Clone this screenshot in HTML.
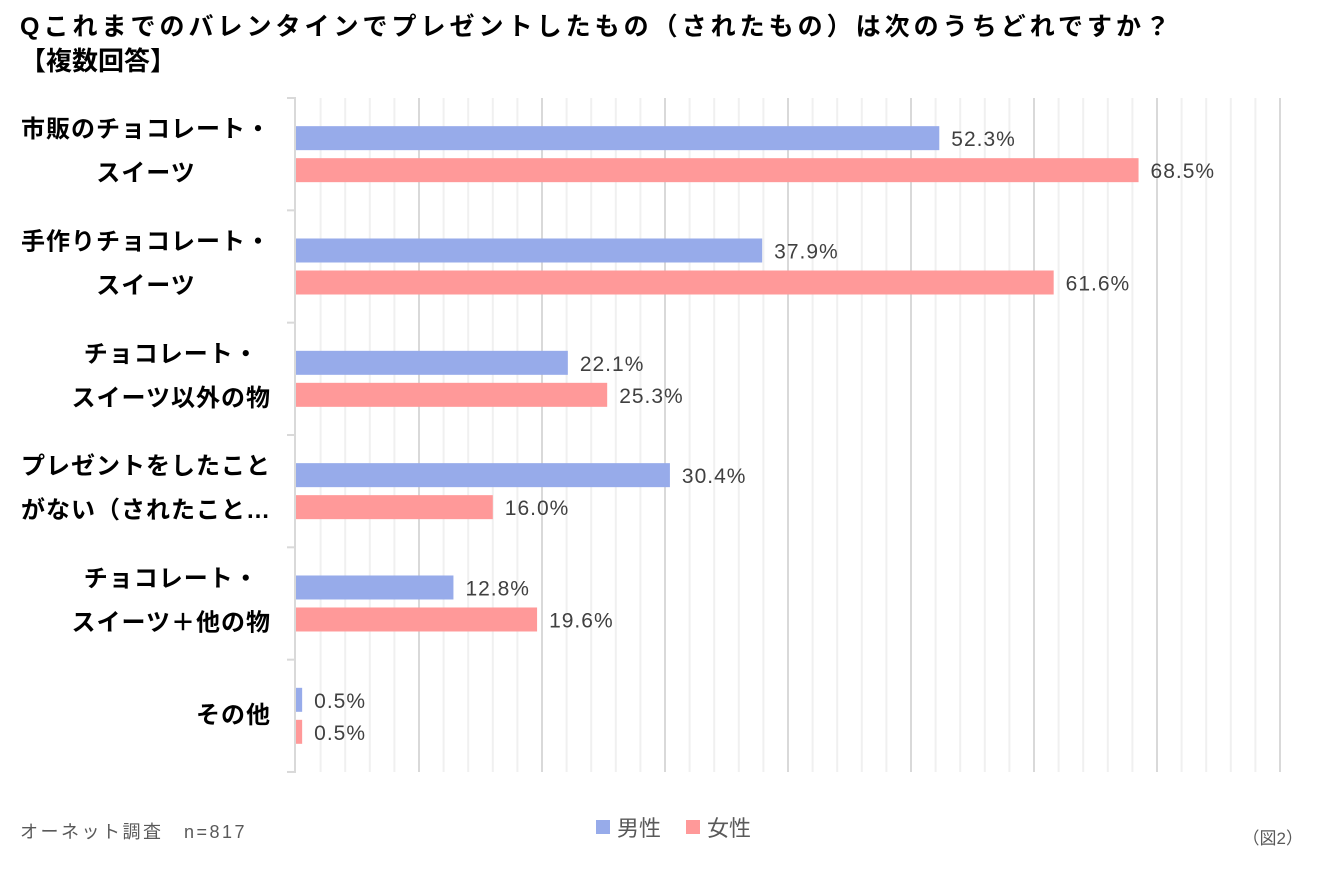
<!DOCTYPE html>
<html><head><meta charset="utf-8"><style>
body{margin:0;background:#fff;width:1337px;height:880px;overflow:hidden;font-family:"Liberation Sans","Noto Sans CJK JP",sans-serif;}
</style></head><body>
<svg id="c" width="1337" height="880" xmlns="http://www.w3.org/2000/svg">
<text x="20" y="35" font-size="25" font-weight="bold" fill="#000" textLength="1150" lengthAdjust="spacing">Qこれまでのバレンタインでプレゼントしたもの（されたもの）は次のうちどれですか？</text>
<text x="20" y="70" font-size="26" font-weight="bold" fill="#000">【複数回答】</text>
<g id="grid"></g><g id="bars"></g><g id="labels"></g>
<text x="20" y="838" font-size="18" fill="#595959" letter-spacing="2.5">オーネット調査　n=817</text>
<rect x="596" y="820" width="14" height="14" fill="#97abea"/>
<text x="617" y="836" font-size="22" fill="#595959">男性</text>
<rect x="686" y="820" width="14" height="14" fill="#ff9999"/>
<text x="707" y="836" font-size="22" fill="#595959">女性</text>
<text x="1303" y="844" font-size="17" fill="#595959" text-anchor="end">（図2）</text>
</svg>
<script>
const categories=[["市販のチョコレート・","スイーツ"],["手作りチョコレート・","スイーツ"],["チョコレート・","スイーツ以外の物"],["プレゼントをしたこと","がない（されたこと…"],["チョコレート・","スイーツ＋他の物"],["その他"]];
const male=[52.3,37.9,22.1,30.4,12.8,0.5];
const female=[68.5,61.6,25.3,16.0,19.6,0.5];
const NS="http://www.w3.org/2000/svg";
const x0=296,xScale=12.3,top0=98,bandH=112.33,maxV=80;
const X=v=>x0+v*xScale;
function mk(t,a,p){const e=document.createElementNS(NS,t);for(const k in a)e.setAttribute(k,a[k]);p.appendChild(e);return e;}
const g=document.getElementById('grid'),b=document.getElementById('bars'),l=document.getElementById('labels');
const bottom=top0+bandH*categories.length;
for(let v=2;v<=maxV;v+=2){const major=v%10===0;
const ln=mk('line',{x1:X(v),x2:X(v),y1:top0,y2:bottom,stroke:major?'#d9d9d9':'#f0f0f0','stroke-width':2},g);

}
const ax=mk('line',{x1:x0-1,x2:x0-1,y1:top0,y2:bottom,stroke:'#d9d9d9','stroke-width':2},g);


for(let i=0;i<=categories.length;i++){const y=top0+bandH*i;
const t=mk('line',{x1:x0-9,x2:x0,y1:y,y2:y,stroke:'#d9d9d9','stroke-width':2},g);

}
categories.forEach((c,i)=>{const cy=top0+bandH*i+bandH/2;
[[male[i],'#97abea',-28,'bar-male'],[female[i],'#ff9999',4,'bar-female']].forEach(([v,col,dy,nm])=>{
const r=mk('rect',{x:x0,y:cy+dy,width:Math.max(0,X(v)-x0),height:24,fill:col},b);


const t=mk('text',{x:X(v)+12,y:cy+dy+20,'font-size':21,'letter-spacing':1,fill:'#404040'},l);t.textContent=v.toFixed(1)+'%';

});
const texts=c.map((s,k)=>{const y=c.length===1?cy+7:cy-17+k*44;
const t=mk('text',{x:0,y:y,'font-size':24,'letter-spacing':1,'font-weight':'bold',fill:'#000','text-anchor':'middle'},l);t.textContent=s;

return t;});
const w=Math.max(...texts.map(t=>t.getComputedTextLength()));
texts.forEach(t=>t.setAttribute('x',271-w/2));});
</script>
</body></html>
